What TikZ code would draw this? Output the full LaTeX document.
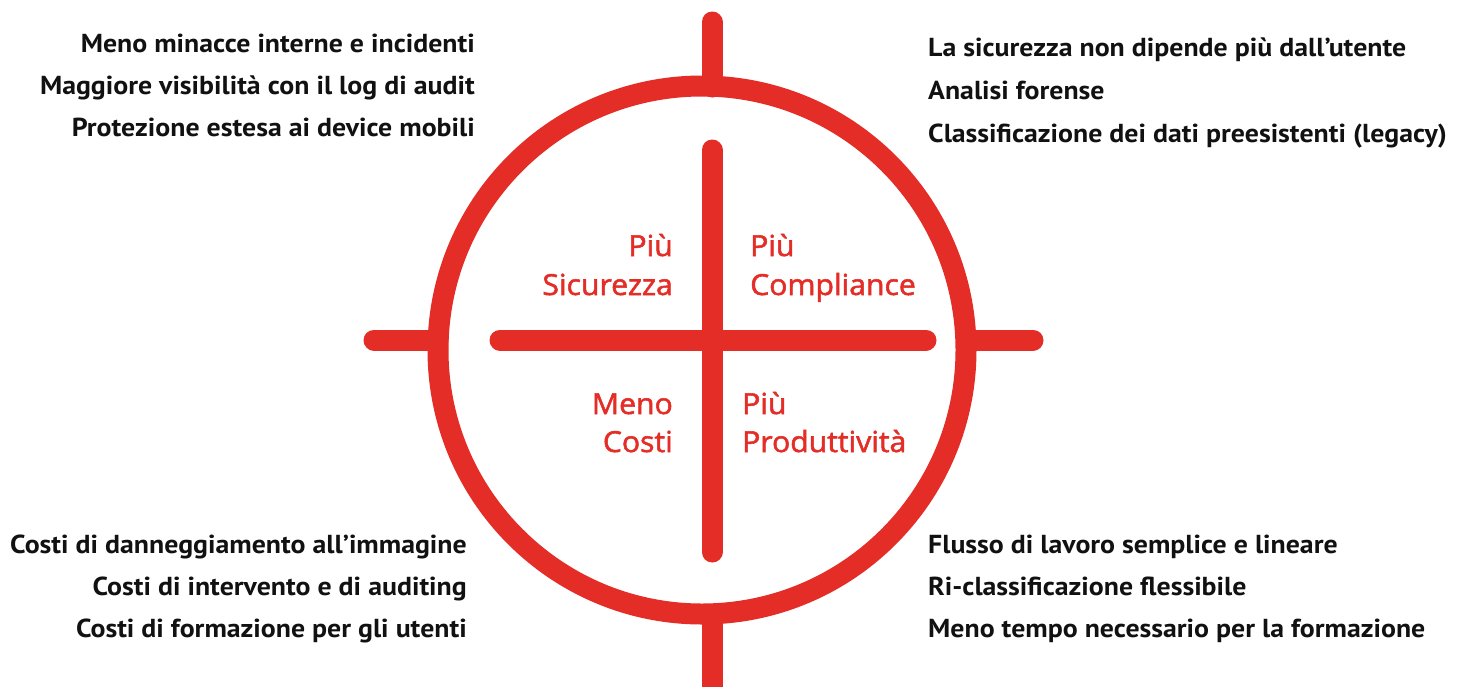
\documentclass[tikz,border=0pt]{standalone}
\usepackage{fontspec}
\setmainfont{PT Sans}[FakeStretch=1.07]
\newfontfamily\labfont{Open Sans}[FakeBold=1.8,FakeStretch=1.04]
\definecolor{tred}{HTML}{E32D26}
\definecolor{tblack}{HTML}{111111}
\begin{document}
\begin{tikzpicture}[x=1pt,y=-1pt,
  bar/.style={draw=tred,line width=21pt,line cap=round},
  ring/.style={draw=tred,line width=21pt},
  blk/.style={font=\fontsize{26}{30}\selectfont\bfseries,text=tblack,inner sep=0pt},
  blkl/.style={blk,anchor=base west},
  blkr/.style={blk,anchor=base east},
  lab/.style={font=\labfont\fontsize{29}{34}\selectfont,text=tred,inner sep=0pt},
  labl/.style={lab,anchor=base west},
  labr/.style={lab,anchor=base east}]
\useasboundingbox (0,0) rectangle (1457,686);
% ring
\coordinate (ctr) at (702,350);
\draw[ring] (ctr) circle[radius=264];
% coordinates
\coordinate (vt) at (712,22);
\coordinate (vtr) at (712,87);
\coordinate (vbr) at (712,614);
\coordinate (vb) at (712,700);
\coordinate (hl) at (374,340);
\coordinate (hlr) at (438,340);
\coordinate (hrr) at (967,340);
\coordinate (hr) at (1033,340);
\coordinate (it) at (712,150);
\coordinate (ib) at (712,552);
\coordinate (il) at (500,340);
\coordinate (ir) at (926,340);
\draw[bar] (vt) -- (vtr);
\draw[bar,line cap=butt] (vbr) -- (vb);
\draw[bar] (hl) -- (hlr);
\draw[bar] (hrr) -- (hr);
\draw[bar] (it) -- (ib);
\draw[bar] (il) -- (ir);
% inner labels
\node[labr] (s1) at (673,256) {Più};
\node[labr] (s2) at (673,295) {Sicurezza};
\node[labl] (c1) at (750,256) {Più};
\node[labl] (c2) at (750,295) {Compliance};
\node[labr] (m1) at (673,414) {Meno};
\node[labr] (m2) at (673,452) {Costi};
\node[labl] (p1) at (742,414) {Più};
\node[labl] (p2) at (742,452) {Produttività};
% top-left
\node[blkr] (tl1) at (475,52) {Meno minacce interne e incidenti};
\node[blkr] (tl2) at (475,94) {Maggiore visibilità con il log di audit};
\node[blkr] (tl3) at (475,136) {Protezione estesa ai device mobili};
% top-right
\node[blkl] (tr1) at (928,56) {La sicurezza non dipende più dall’utente};
\node[blkl] (tr2) at (928,99) {Analisi forense};
\node[blkl] (tr3) at (928,142) {Classificazione dei dati preesistenti (legacy)};
% bottom-left
\node[blkr] (bl1) at (467,553) {Costi di danneggiamento all’immagine};
\node[blkr] (bl2) at (467,595) {Costi di intervento e di auditing};
\node[blkr] (bl3) at (467,637) {Costi di formazione per gli utenti};
% bottom-right
\node[blkl] (br1) at (928,553) {Flusso di lavoro semplice e lineare};
\node[blkl] (br2) at (928,595) {Ri-classificazione flessibile};
\node[blkl] (br3) at (928,637) {Meno tempo necessario per la formazione};
\end{tikzpicture}
\end{document}
